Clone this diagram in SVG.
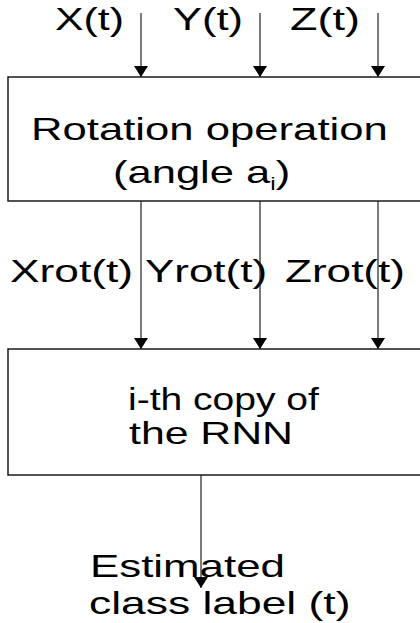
<svg xmlns="http://www.w3.org/2000/svg" width="420" height="623" viewBox="0 0 420 623">
  <style>
    .box { fill: #ffffff; stroke: #1a1a1a; stroke-width: 1.5; }
    .wire { stroke: #222222; stroke-width: 1.2; fill: none; marker-end: url(#head); }
    .lbl { font-family: "Liberation Sans", Arial, sans-serif; font-size: 32px; fill: #000000; }
  </style>
  <defs>
    <!-- filled triangular arrowhead, tip at the line end -->
    <marker id="head" markerUnits="userSpaceOnUse" markerWidth="11" markerHeight="14" refX="11" refY="7" orient="auto" viewBox="0 0 11 14">
      <path d="M0,0 L11,7 L0,14 Z" fill="#000000"/>
    </marker>
  </defs>
  <rect width="420" height="623" fill="#ffffff"/>

  <!-- labels use a wide face: glyphs stretched horizontally -->
  <g id="rotation">
    <rect class="box" x="8" y="77" width="420" height="124"/>
    <text class="lbl" transform="translate(31 140) scale(1.365 1)">Rotation operation</text>
    <text class="lbl" transform="translate(113 183) scale(1.36 1)">(angle a<tspan font-size="18" dy="7">i</tspan><tspan dy="-7">)</tspan></text>
  </g>

  <g id="rnn">
    <rect class="box" x="8" y="349" width="420" height="126"/>
    <text class="lbl" transform="translate(128 410) scale(1.22 1)">i-th copy of</text>
    <text class="lbl" transform="translate(129 444) scale(1.337 1)">the RNN</text>
  </g>

  <g id="labels">
    <text class="lbl" transform="translate(55 30) scale(1.339 1)">X(t)</text>
    <text class="lbl" transform="translate(173 30) scale(1.358 1)">Y(t)</text>
    <text class="lbl" transform="translate(290 30) scale(1.406 1)">Z(t)</text>
    <text class="lbl" transform="translate(10 282) scale(1.384 1)">Xrot(t)</text>
    <text class="lbl" transform="translate(145 282) scale(1.373 1)">Yrot(t)</text>
    <text class="lbl" transform="translate(285 282) scale(1.378 1)">Zrot(t)</text>
    <text class="lbl" transform="translate(90 577) scale(1.371 1)">Estimated</text>
    <text class="lbl" transform="translate(89 614) scale(1.387 1)">class label (t)</text>
  </g>

  <g id="connectors">
    <line class="wire" x1="141" y1="13" x2="141" y2="77"/>
    <line class="wire" x1="260" y1="13" x2="260" y2="77"/>
    <line class="wire" x1="378" y1="13" x2="378" y2="77"/>
    <line class="wire" x1="141" y1="201" x2="141" y2="349"/>
    <line class="wire" x1="260" y1="201" x2="260" y2="349"/>
    <line class="wire" x1="378" y1="201" x2="378" y2="349"/>
    <line class="wire" x1="201" y1="475" x2="201" y2="588"/>
  </g>
</svg>
